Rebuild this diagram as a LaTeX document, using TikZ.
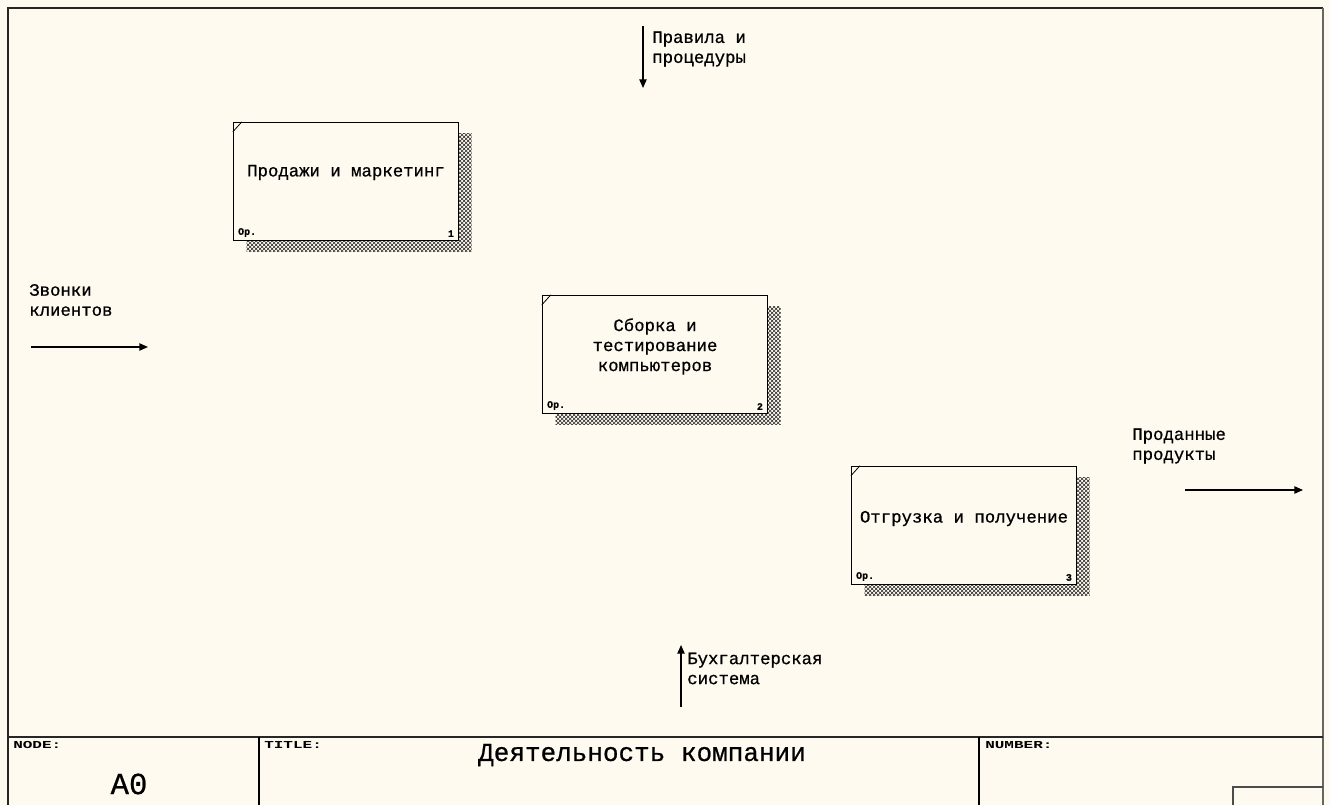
\documentclass[tikz,border=0pt]{standalone}
\usepackage{fontspec}
\setmainfont[FakeBold=0.7]{Liberation Mono}
\newfontfamily\hdrfont[FakeStretch=1.5]{Liberation Mono}
\usetikzlibrary{arrows.meta,patterns,shadows}
\definecolor{bg}{RGB}{255,250,240}
\begin{document}
\begin{tikzpicture}[x=0.75pt,y=-0.75pt,
  procbox/.style={draw=black, line width=1pt, fill=bg, minimum width=168.75pt,
    minimum height=88.5pt, inner sep=0pt,
    general shadow={shadow xshift=9.75pt, shadow yshift=-8.25pt,
      pattern=crosshatch, pattern color=black!85}},
  boxtxt/.style={font=\fontsize{13}{15}\selectfont, align=center, inner sep=0pt},
  lbl/.style={font=\fontsize{13}{15}\selectfont, align=left, inner sep=0pt, anchor=west},
  tiny/.style={font=\fontsize{7.5}{8}\selectfont\bfseries, inner sep=0pt},
  hdr/.style={font=\hdrfont\fontsize{8}{9}\selectfont\bfseries, inner sep=0pt, anchor=west},
  flow/.style={line width=1pt, -{Triangle[length=6.5pt,width=5.5pt]}},
  frameline/.style={line width=1.5pt, draw=black!85}
]
\useasboundingbox (0,0) rectangle (1330,805);
\fill[bg] (0,0) rectangle (1330,805);

% frame
\draw[frameline] (8,812) -- (8,8) -- (1323,8);
\draw[line width=1.5pt, draw=black!60] (1323,8) -- (1323,812);
\draw[frameline] (8,737) -- (1323,737);
\draw[line width=1pt] (259,737) -- (259,812);
\draw[line width=1pt] (979,737) -- (979,812);
\draw[line width=1pt, draw=black!70] (1233,812) -- (1233,787) -- (1323,787);

% boxes
\node[procbox] (b1) at (346,181.5) {};
\node[procbox] (b2) at (655,354.5) {};
\node[procbox] (b3) at (964,525.5) {};

\foreach \b/\n in {b1/1,b2/2,b3/3}{
  \draw[line width=0.6pt] (\b.north west) ++(0,10) -- ++(9,-10);
  \node[tiny, anchor=south west] (\b op) at ([shift={(5,-4)}]\b.south west) {Op.};
  \node[tiny, anchor=south east] (\b num) at ([shift={(-5,-4)}]\b.south east) {\n};
}

\node[boxtxt] (t1) at ([shift={(0,-9)}]b1.center) {Продажи и маркетинг};
\node[boxtxt] (t2) at ([shift={(0,-8)}]b2.center) {Сборка и\\тестирование\\компьютеров};
\node[boxtxt] (t3) at ([shift={(0,-7)}]b3.center) {Отгрузка и получение};

% boundary arrows
\coordinate (cs) at (643,26);
\coordinate (ce) at (643,88);
\draw[flow] (cs) -- (ce);
\node[lbl] (ctl) at (652,49) {Правила и\\процедуры};

\coordinate (ms) at (681,707);
\coordinate (me) at (681,645);
\draw[flow] (ms) -- (me);
\node[lbl] (mech) at (687,668.5) {Бухгалтерская\\система};

\coordinate (is) at (31,347);
\coordinate (ie) at (148,347);
\draw[flow] (is) -- (ie);
\node[lbl] (inp) at (29,300) {Звонки\\клиентов};

\coordinate (os) at (1185,490);
\coordinate (oe) at (1303,490);
\draw[flow] (os) -- (oe);
\node[lbl] (outp) at (1132,446) {Проданные\\продукты};

% title block
\node[hdr] (hnode) at (13,745) {NODE:};
\node[hdr] (htitle) at (264,745) {TITLE:};
\node[hdr] (hnum) at (985,745) {NUMBER:};
\node[font=\fontsize{23}{26}\selectfont, inner sep=0pt] (a0) at (129,784) {A0};
\node[font=\fontsize{19.5}{22}\selectfont, inner sep=0pt] (title) at (642,755) {Деятельность компании};
\end{tikzpicture}
\end{document}
